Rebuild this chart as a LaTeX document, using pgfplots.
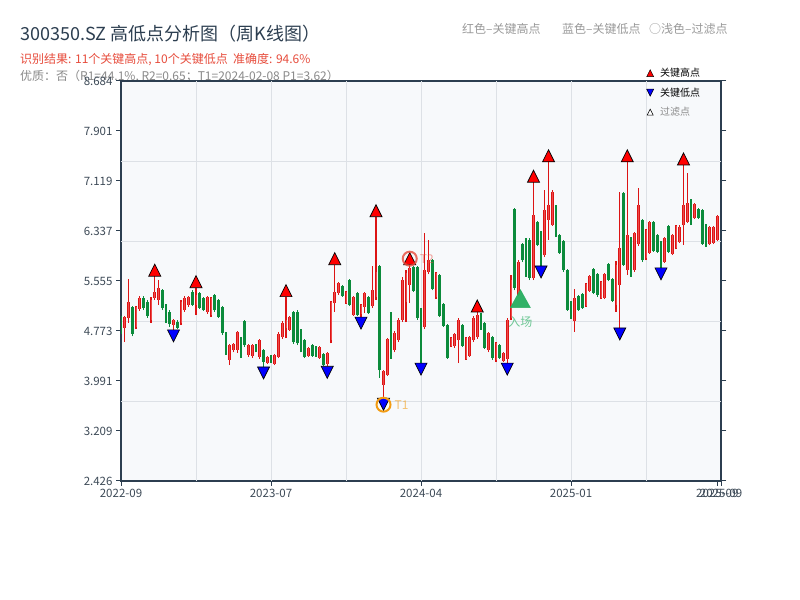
\documentclass[border=0pt]{standalone}
\usepackage{fontspec}
\setmainfont{Noto Sans CJK SC}
\usepackage{pgfplots}
\pgfplotsset{compat=1.18}
\usepackage{pgfplotstable}
\definecolor{navy}{HTML}{2C3E50}
\definecolor{candR}{HTML}{DC1414}
\definecolor{candRin}{HTML}{EE4A4A}
\definecolor{candG}{HTML}{0B8B3B}
\definecolor{gridc}{HTML}{DDE1E6}
\definecolor{bgc}{HTML}{F7F9FB}
\definecolor{tickc}{HTML}{3D4A57}
\definecolor{subred}{HTML}{E74C3C}
\definecolor{grayt}{HTML}{8A8A8A}
\definecolor{lgray}{HTML}{9A9A9A}
\definecolor{orng}{HTML}{F39C12}
\definecolor{entg}{HTML}{27AE60}
\pgfdeclareplotmark{tri}{%
  \pgfpathmoveto{\pgfqpoint{0pt}{\pgfplotmarksize}}%
  \pgfpathlineto{\pgfqpoint{-\pgfplotmarksize}{-\pgfplotmarksize}}%
  \pgfpathlineto{\pgfqpoint{\pgfplotmarksize}{-\pgfplotmarksize}}%
  \pgfpathclose\pgfusepathqfillstroke}
\pgfdeclareplotmark{tridown}{%
  \pgfpathmoveto{\pgfqpoint{0pt}{-\pgfplotmarksize}}%
  \pgfpathlineto{\pgfqpoint{-\pgfplotmarksize}{\pgfplotmarksize}}%
  \pgfpathlineto{\pgfqpoint{\pgfplotmarksize}{\pgfplotmarksize}}%
  \pgfpathclose\pgfusepathqfillstroke}
\pgfplotstableread{
x o h l c
1 4.82 5.01 4.60 4.99
2 4.98 5.59 4.90 5.23
4 4.84 5.16 4.80 5.15
5 5.12 5.32 5.09 5.29
8 4.95 5.31 4.90 5.26
9 5.29 5.63 5.26 5.38
10 5.26 5.57 5.18 5.45
14 4.87 4.96 4.79 4.95
16 4.90 5.26 4.87 5.23
17 5.10 5.32 5.07 5.29
18 5.18 5.32 5.15 5.31
20 5.18 5.45 5.02 5.34
23 5.07 5.32 5.04 5.31
24 5.02 5.31 4.99 5.29
29 4.32 4.57 4.24 4.55
30 4.48 4.58 4.44 4.57
31 4.48 4.77 4.43 4.76
34 4.40 4.57 4.37 4.55
35 4.38 4.57 4.35 4.55
37 4.37 4.65 4.34 4.63
39 4.27 4.38 4.26 4.37
41 4.26 4.41 4.24 4.40
42 4.37 4.76 4.35 4.73
43 4.68 4.93 4.65 4.90
44 4.82 5.31 4.66 4.95
45 4.79 5.01 4.77 4.99
50 4.38 4.52 4.37 4.51
53 4.35 4.54 4.34 4.52
55 4.26 4.44 4.22 4.43
56 4.63 5.24 4.58 5.23
57 5.21 5.81 5.07 5.38
58 5.37 5.54 5.34 5.52
60 5.21 5.40 5.20 5.38
62 5.02 5.32 5.01 5.31
64 5.04 5.20 4.99 5.18
65 5.15 5.38 5.05 5.37
67 5.16 5.79 5.13 5.41
68 5.31 6.56 5.26 5.70
70 3.93 4.16 3.72 4.15
71 4.09 4.66 4.07 4.65
73 4.48 4.77 4.44 4.74
74 4.63 4.98 4.60 4.95
75 4.95 5.62 4.91 5.57
76 5.23 5.73 4.91 5.68
77 5.49 5.81 5.21 5.76
81 4.84 6.31 4.80 5.73
82 5.70 6.20 5.66 5.88
84 5.31 5.70 5.27 5.68
88 4.54 4.68 4.52 4.66
89 4.54 4.74 4.51 4.73
90 4.63 4.98 4.27 4.95
92 4.34 4.68 4.32 4.66
93 4.38 4.69 4.37 4.68
94 4.63 5.01 4.60 4.98
95 4.68 5.07 4.65 5.02
98 4.48 4.76 4.44 4.74
100 4.32 4.60 4.29 4.58
102 4.30 4.44 4.29 4.43
103 4.34 4.98 4.27 4.95
104 4.98 5.65 4.95 5.57
106 5.34 5.88 5.32 5.85
110 5.60 7.10 5.57 6.59
113 5.96 6.98 5.93 6.67
114 6.51 7.42 6.20 6.74
115 6.43 6.98 6.42 6.95
121 4.93 5.43 4.76 5.29
124 5.16 5.52 5.15 5.51
125 5.40 5.65 5.38 5.63
128 5.29 5.55 5.27 5.54
129 5.29 5.68 5.27 5.66
132 5.18 5.87 5.07 5.81
133 5.49 6.95 4.82 6.07
135 5.73 7.42 5.65 6.28
137 5.73 6.32 5.70 6.31
138 6.13 7.01 6.10 6.74
140 5.91 6.37 5.88 6.35
141 5.99 6.49 5.98 6.48
145 5.85 6.24 5.84 6.23
147 5.98 6.29 5.96 6.28
148 6.07 6.43 6.05 6.42
149 6.17 6.43 6.15 6.40
150 6.43 7.37 6.12 6.74
151 6.48 7.24 6.46 6.77
153 6.54 6.77 6.53 6.76
157 6.13 6.42 6.12 6.40
158 6.15 6.42 6.13 6.40
159 6.20 6.59 6.18 6.57
}\redtab
\pgfplotstableread{
x o h l c
0 4.98 5.01 4.73 4.76
3 5.15 5.16 4.69 4.73
6 5.29 5.32 5.10 5.13
7 5.23 5.26 4.98 5.01
11 5.41 5.43 5.10 5.13
12 5.18 5.20 4.90 4.93
13 5.07 5.10 4.84 4.88
15 4.91 4.95 4.81 4.82
19 5.38 5.41 5.16 5.18
21 5.37 5.38 5.12 5.13
22 5.29 5.31 5.09 5.10
25 5.34 5.35 5.07 5.10
26 5.26 5.27 4.98 4.99
27 5.15 5.16 4.71 4.74
28 4.74 4.76 4.40 4.43
32 4.66 4.68 4.35 4.38
33 4.93 4.95 4.52 4.55
36 4.55 4.57 4.44 4.46
38 4.48 4.49 4.21 4.29
40 4.38 4.40 4.27 4.29
46 5.07 5.09 4.57 4.60
47 5.07 5.10 4.55 4.58
48 4.79 4.80 4.44 4.46
49 4.63 4.65 4.35 4.37
51 4.55 4.57 4.37 4.38
52 4.52 4.54 4.37 4.40
54 4.41 4.43 4.23 4.24
59 5.48 5.49 5.31 5.32
61 5.57 5.59 5.16 5.18
63 5.37 5.38 5.01 5.02
66 5.31 5.32 5.04 5.05
69 5.79 5.81 4.04 4.16
72 5.05 5.07 4.34 4.35
78 5.77 5.79 5.38 5.40
79 5.77 5.79 4.95 4.98
80 5.12 5.13 4.27 4.79
83 5.88 5.90 5.41 5.43
85 5.65 5.66 4.99 5.01
86 5.20 5.21 4.84 4.85
87 4.87 4.88 4.34 4.35
91 4.87 4.88 4.52 4.54
96 5.04 5.05 4.79 4.82
97 4.90 4.91 4.49 4.51
99 4.68 4.69 4.32 4.35
101 4.55 4.57 4.34 4.35
105 6.68 6.70 5.41 5.45
107 6.13 6.15 5.85 5.88
108 6.21 6.23 5.62 5.65
109 6.20 6.23 5.57 5.60
111 6.48 6.49 6.10 6.12
112 6.32 6.34 5.79 5.91
116 6.73 6.74 6.24 6.26
117 6.28 6.29 5.98 5.99
118 6.18 6.20 5.70 5.73
119 5.73 5.74 5.09 5.10
120 5.23 5.24 4.96 4.98
122 5.32 5.34 5.09 5.10
123 5.35 5.37 5.12 5.13
126 5.74 5.76 5.35 5.37
127 5.66 5.68 5.31 5.34
130 5.82 5.84 5.55 5.57
131 5.59 5.60 5.23 5.24
134 6.93 6.95 5.79 5.81
136 6.23 6.24 5.62 5.63
139 6.51 6.53 5.85 5.88
142 6.48 6.49 6.01 6.02
143 6.28 6.29 5.99 6.01
144 6.17 6.18 5.76 5.85
146 6.42 6.43 5.99 6.01
152 6.82 6.84 6.43 6.45
154 6.68 6.70 6.53 6.54
155 6.67 6.68 6.12 6.13
156 6.43 6.45 6.09 6.10
}\greentab
\begin{document}
\begin{tikzpicture}[x=1bp,y=1bp]
\useasboundingbox (0,0) rectangle (800,600);
\fill[white] (0,0) rectangle (800,600);
\coordinate (axSW) at (121,119);
\node[anchor=base west, inner sep=0, text=navy, font=\fontsize{18bp}{21bp}\selectfont] at (20,559) {300350.SZ 高低点分析图（周K线图）};
\node[anchor=base west, inner sep=0, text=subred, font=\fontsize{12bp}{14bp}\selectfont] at (20,536) {识别结果: 11个关键高点, 10个关键低点\ \ 准确度: 94.6\%};
\node[anchor=base west, inner sep=0, text=grayt, font=\fontsize{12bp}{14bp}\selectfont] at (20,519.5) {优质：否（R1=44.1\%, R2=0.65；T1=2024-02-08 P1=3.62）};
\node[anchor=base west, inner sep=0, text=lgray, font=\fontsize{12bp}{14bp}\selectfont] at (462,566) {红色–关键高点};
\node[anchor=base west, inner sep=0, text=lgray, font=\fontsize{12bp}{14bp}\selectfont] at (562,566) {蓝色–关键低点};
\node[anchor=base west, inner sep=0, text=lgray, font=\fontsize{12bp}{14bp}\selectfont] at (649,566) {○浅色–过滤点};
\begin{axis}[
  at={(axSW)}, anchor=south west,
  width=600bp, height=400bp, scale only axis,
  xmin=0, xmax=160, ymin=2.426, ymax=8.684,
  axis background/.style={fill=bgc},
  axis line style={draw=navy, line width=1.8bp},
  tick align=outside, major tick length=5bp,
  tick style={draw=navy, line width=1bp},
  xtick pos=lower, ytick pos=both, yticklabel pos=left,
  xtick={0,40,80,120,159,160},
  xticklabels={2022-09,2023-07,2024-04,2025-01,2025-09,2025-09},
  ytick={2.426,3.20825,3.9905,4.77275,5.555,6.33725,7.1195,7.90175,8.684},
  yticklabels={2.426,3.209,3.991,4.773,5.555,6.337,7.119,7.901,8.684},
  ticklabel style={font=\fontsize{11.5bp}{13bp}\selectfont, text=tickc},
  extra x ticks={20,40,60,80,100,120,140},
  extra x tick labels={},
  extra x tick style={grid=major, major tick length=0pt},
  extra y ticks={3.6776,4.9292,6.1808,7.4324},
  extra y tick labels={},
  extra y tick style={grid=major, major tick length=0pt},
  major grid style={draw=gridc, line width=0.8bp},
  legend style={at={(0.8758,1.036)}, anchor=north west, draw=none, fill=none,
    font=\fontsize{10bp}{12bp}\selectfont, row sep=6.5bp, inner sep=0pt,
    nodes={inner sep=1.5bp},
    /tikz/every odd column/.append style={column sep=5bp}},
  legend cell align=left,
]
% wicks and bodies
\addplot[forget plot, draw=none, mark=none, error bars/.cd, y dir=plus, y explicit, error mark=none,
  error bar style={draw=candR, line width=1.4bp}]
  table[x=x, y=l, y error expr=\thisrow{h}-\thisrow{l}] {\redtab};
\addplot[forget plot, draw=none, mark=none, error bars/.cd, y dir=plus, y explicit, error mark=none,
  error bar style={draw=candR, line width=2.8bp}]
  table[x=x, y=o, y error expr=\thisrow{c}-\thisrow{o}] {\redtab};
\addplot[forget plot, draw=none, mark=none, error bars/.cd, y dir=plus, y explicit, error mark=none,
  error bar style={draw=candRin, line width=0.7bp}]
  table[x=x, y=o, y error expr=\thisrow{c}-\thisrow{o}] {\redtab};
\addplot[forget plot, draw=none, mark=none, error bars/.cd, y dir=plus, y explicit, error mark=none,
  error bar style={draw=candG, line width=1.4bp}]
  table[x=x, y=l, y error expr=\thisrow{h}-\thisrow{l}] {\greentab};
\addplot[forget plot, draw=none, mark=none, error bars/.cd, y dir=plus, y explicit, error mark=none,
  error bar style={draw=candG, line width=2.8bp}]
  table[x=x, y=c, y error expr=\thisrow{o}-\thisrow{c}] {\greentab};
% key highs / lows
\addplot[forget plot, only marks, mark=tri, mark size=6bp,
  mark options={fill=red, draw=black, line width=0.7bp, yshift=6bp}]
  coordinates {(9,5.63)(20,5.45)(44,5.31)(57,5.81)(68,6.56)(77,5.81)(95,5.07)(110,7.10)(114,7.42)(135,7.42)(150,7.37)};
\addplot[forget plot, only marks, mark=tridown, mark size=6bp,
  mark options={fill=blue, draw=black, line width=0.7bp, yshift=-6bp}]
  coordinates {(14,4.79)(38,4.21)(55,4.22)(64,4.99)(70,3.72)(80,4.27)(103,4.27)(112,5.79)(133,4.82)(144,5.76)};
% T1 / T2 rings
\addplot[forget plot, only marks, mark=o, mark size=7bp,
  mark options={draw=orng, line width=2bp}] coordinates {(70,3.62)};
\addplot[forget plot, only marks, mark=o, mark size=7bp,
  mark options={draw=subred, draw opacity=0.8, line width=2bp, yshift=6bp}] coordinates {(77,5.81)};
% entry
\addplot[forget plot, only marks, mark=tri, mark size=10bp,
  mark options={fill=entg, draw=entg, opacity=0.95, yscale=0.9}] coordinates {(106.5,5.28)};
\node[anchor=west, text=orng, text opacity=0.6, font=\fontsize{12bp}{14bp}\selectfont, inner sep=0] at (axis cs:70,3.62) [xshift=11bp] {T1};
\node[anchor=west, text=subred, text opacity=0.5, font=\fontsize{12bp}{14bp}\selectfont, inner sep=0] at (axis cs:77,5.81) [xshift=10bp, yshift=6bp] {T2};
\node[text=entg, text opacity=0.65, font=\fontsize{12bp}{14bp}\selectfont, inner sep=0] at (axis cs:106.5,5.28) [yshift=-23bp] {入场};
% legend
\addlegendimage{only marks, mark=tri, mark size=3.5bp, mark options={fill=red, draw=black, line width=0.5bp}}
\addlegendentry{关键高点}
\addlegendimage{only marks, mark=tridown, mark size=3.5bp, mark options={fill=blue, draw=black, line width=0.5bp}}
\addlegendentry{关键低点}
\addlegendimage{only marks, mark=tri, mark size=3bp, mark options={fill=white, draw=black, line width=0.5bp}}
\addlegendentry{\textcolor{grayt}{过滤点}}
\end{axis}
\end{tikzpicture}
\end{document}
